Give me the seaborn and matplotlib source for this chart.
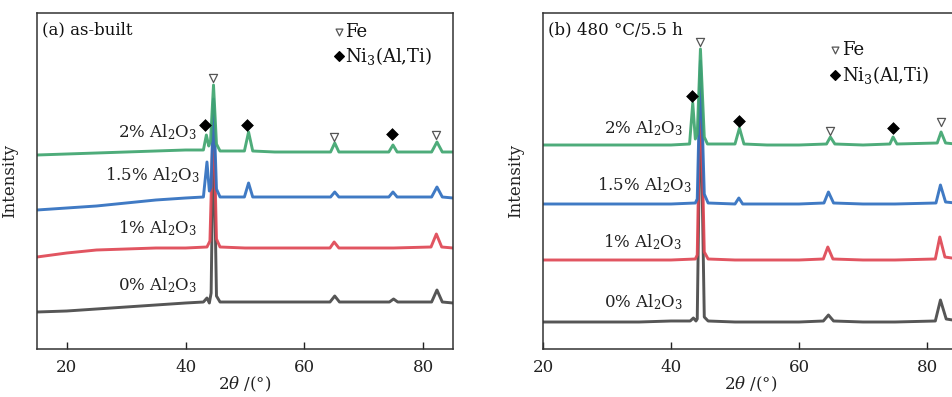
import matplotlib
matplotlib.use("Agg")
import matplotlib.pyplot as plt
import seaborn as sns
import pandas as pd

sns.set_theme(style="white")
plt.rcParams['font.family'] = ['DejaVu Serif']
plt.rcParams['mathtext.fontset'] = 'dejavuserif'

# ---------------- data ----------------
series_names = ["0% Al$_2$O$_3$", "1% Al$_2$O$_3$", "1.5% Al$_2$O$_3$", "2% Al$_2$O$_3$"]
series_colors = ["#474747", "#df4653", "#2f6fbf", "#3fa56f"]

# Panel (a) as-built
a0_x = [15, 20, 25, 30, 35, 40, 43.0, 43.6, 44.0, 44.3, 44.7, 45.2, 45.8, 50, 55, 60, 64.3, 65.1, 65.9, 70, 74.3, 75.0, 75.7, 81.4, 82.3, 83.2, 85]
a0_y = [37, 38, 40, 42, 44, 46, 47, 51, 46, 56, 230, 53, 47, 47, 47, 47, 47, 53, 47, 47, 47, 50, 47, 47, 59, 47, 46]
a1_x = [15, 20, 25, 30, 35, 40, 43.6, 44.1, 44.7, 45.2, 45.8, 50, 55, 60, 64.3, 65.0, 65.8, 70, 75, 81.3, 82.2, 83.1, 85]
a1_y = [92, 96, 99, 100, 101, 101, 102, 108, 240, 110, 102, 101, 101, 101, 101, 107, 101, 101, 101, 102, 115, 102, 101]
a2_x = [15, 20, 25, 30, 35, 40, 43.0, 43.6, 44.0, 44.3, 44.7, 45.2, 45.8, 49.9, 50.6, 51.3, 55, 60, 64.4, 65.1, 65.8, 70, 74.2, 74.9, 75.6, 81.4, 82.3, 83.2, 85]
a2_y = [139, 141, 143, 146, 149, 151, 152, 187, 158, 162, 250, 160, 152, 152, 166, 152, 152, 152, 152, 157, 152, 152, 152, 157, 152, 152, 162, 152, 151]
a3_x = [15, 20, 25, 30, 35, 40, 43.0, 43.5, 43.9, 44.2, 44.7, 45.2, 45.8, 49.9, 50.6, 51.3, 55, 60, 64.4, 65.1, 65.8, 70, 74.2, 74.9, 75.6, 81.4, 82.3, 83.2, 85]
a3_y = [194, 195, 196, 197, 198, 199, 199, 214, 203, 208, 264, 205, 198, 198, 217, 198, 197, 197, 197, 206, 197, 197, 197, 204, 197, 197, 207, 197, 197]

# Panel (b) 480 C / 5.5 h
b0_x = [20, 25, 30, 35, 40, 43.0, 43.5, 43.9, 44.1, 44.6, 45.2, 45.8, 50, 55, 60, 63.8, 64.6, 65.4, 70, 75, 81.3, 82.1, 83.0, 86]
b0_y = [27, 27, 27, 27, 28, 28, 31, 28, 30, 265, 32, 28, 27, 27, 27, 28, 34, 28, 27, 27, 28, 49, 30, 27]
b1_x = [20, 25, 30, 35, 40, 43.8, 44.1, 44.6, 45.2, 45.8, 50, 55, 60, 63.8, 64.5, 65.3, 70, 75, 81.3, 82.0, 82.8, 86]
b1_y = [89, 89, 89, 89, 89, 90, 94, 275, 97, 90, 89, 89, 89, 90, 102, 90, 89, 89, 90, 112, 92, 89]
b2_x = [20, 25, 30, 35, 40, 43.8, 44.1, 44.6, 45.2, 45.8, 50.0, 50.6, 51.2, 55, 60, 63.9, 64.6, 65.4, 70, 75, 81.4, 82.1, 82.9, 86]
b2_y = [145, 145, 145, 145, 145, 146, 150, 288, 155, 146, 145, 151, 145, 145, 145, 146, 157, 146, 145, 145, 146, 164, 147, 145]
b3_x = [20, 25, 30, 35, 40, 42.9, 43.4, 43.8, 44.1, 44.6, 45.2, 45.7, 50.0, 50.7, 51.4, 55, 60, 64.3, 64.9, 65.6, 70, 74.2, 74.7, 75.3, 81.6, 82.2, 82.9, 86]
b3_y = [204, 204, 204, 204, 204, 205, 246, 210, 215, 300, 212, 205, 205, 221, 205, 204, 204, 205, 212, 205, 204, 205, 212, 205, 206, 217, 206, 204]

# phase markers: (x, y)
a_fe_x = [44.6, 65.0, 82.2]
a_fe_y = [271, 212, 214]
a_ni_x = [43.3, 50.4, 74.8]
a_ni_y = [224, 224, 215]
b_fe_x = [44.6, 64.9, 82.2]
b_fe_y = [307, 218, 227]
b_ni_x = [43.3, 50.7, 74.7]
b_ni_y = [253, 228, 221]

# curve-label anchors (right edge x, center y)
a_lab_x = [42.0, 42.0, 42.5, 42.0]
a_lab_y = [64, 121, 174, 217]
b_lab_x = [41.9, 41.7, 43.3, 41.9]
b_lab_y = [47, 107, 164, 221]

panel_titles = ["(a) as-built", "(b) 480 \u00b0C/5.5 h"]
xticks = [20, 40, 60, 80]

# ---------------- figure ----------------
W, H = 953, 397
fig = plt.figure(figsize=(W / 100, H / 100), dpi=100)

def frac(px_l, px_t, px_w, px_h):
    return [px_l / W, (H - px_t - px_h) / H, px_w / W, px_h / H]

ax_a = fig.add_axes(frac(37, 13, 416, 336))
ax_b = fig.add_axes(frac(543, 13, 416, 336))

panels = [
    (ax_a, [(a0_x, a0_y), (a1_x, a1_y), (a2_x, a2_y), (a3_x, a3_y)], (15, 85),
     a_fe_x, a_fe_y, a_ni_x, a_ni_y, a_lab_x, a_lab_y, panel_titles[0], (0.725, 0.943, 0.872)),
    (ax_b, [(b0_x, b0_y), (b1_x, b1_y), (b2_x, b2_y), (b3_x, b3_y)], (20, 85),
     b_fe_x, b_fe_y, b_ni_x, b_ni_y, b_lab_x, b_lab_y, panel_titles[1], (0.702, 0.89, 0.815)),
]

for (ax, data, xlim, fex, fey, nix, niy, lx, ly, title, leg) in panels:
    for (xs, ys), name, col in zip(data, series_names, series_colors):
        df = pd.DataFrame({"x": xs, "y": ys})
        sns.lineplot(data=df, x="x", y="y", ax=ax, color=col, lw=2.1,
                     sort=False, estimator=None, alpha=0.92)
    sns.scatterplot(x=fex, y=fey, ax=ax, marker="v", s=34, facecolor="white",
                    edgecolor="#555555", linewidth=0.9, zorder=5)
    sns.scatterplot(x=nix, y=niy, ax=ax, marker="D", s=36, color="black",
                    edgecolor="black", linewidth=0.5, zorder=5)
    for name, x, y in zip(series_names, lx, ly):
        ax.text(x, y, name, ha="right", va="center", fontsize=12, color="#222222")
    ax.text(0.012, 0.95, title, transform=ax.transAxes, ha="left", va="center",
            fontsize=12, color="#111111")
    lx0, ly_fe, ly_ni = leg
    ax.scatter([lx0], [ly_fe], transform=ax.transAxes, marker="v", s=24,
               facecolor="white", edgecolor="#555555", linewidth=0.9, zorder=5, clip_on=False)
    ax.scatter([lx0], [ly_ni], transform=ax.transAxes, marker="D", s=24,
               color="black", zorder=5, clip_on=False)
    ax.text(lx0 + 0.016, ly_fe, "Fe", transform=ax.transAxes, ha="left",
            va="center", fontsize=13, color="#111111")
    ax.text(lx0 + 0.016, ly_ni, "Ni$_3$(Al,Ti)", transform=ax.transAxes, ha="left",
            va="center", fontsize=13, color="#111111")

    ax.set_xlim(*xlim)
    ax.set_ylim(0, 336)
    ax.set_xticks(xticks)
    ax.set_yticks([])
    ax.tick_params(axis="x", direction="in", length=5, width=1, bottom=True,
                   labelsize=12, pad=7, colors="#222222")
    for s in ax.spines.values():
        s.set_linewidth(1.1)
        s.set_color("#333333")
        s.set_visible(True)
    ax.set_xlabel(r"2$\theta$ /(°)", fontsize=12, color="#222222")
    ax.xaxis.set_label_coords(0.5, -0.078)
    ax.set_ylabel("Intensity", fontsize=12, color="#222222")
    ax.yaxis.set_label_coords(-0.045, 0.5)
    ax.set_facecolor("white")

fig.savefig("out.png", dpi=100, facecolor="white")
